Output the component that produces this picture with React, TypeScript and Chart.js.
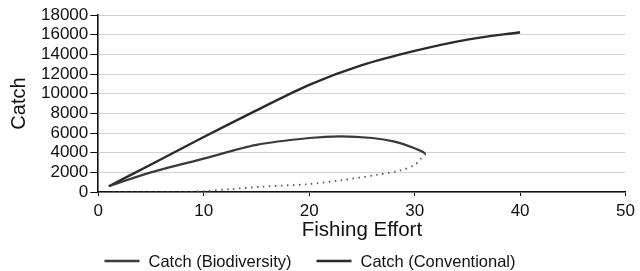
import React, { useEffect, useRef } from 'react';
import { Chart, registerables } from 'chart.js';

Chart.register(...registerables);

// Fishing effort / catch values
const conventionalEffort = [1, 5, 10, 15, 20, 25, 30, 35, 40];
const conventionalCatch = [600, 2800, 5600, 8300, 10900, 12900, 14350, 15500, 16250];

const bioUpperEffort = [1, 5, 10, 15, 20, 23, 26, 28, 30, 31];
const bioUpperCatch = [600, 2000, 3400, 4800, 5500, 5670, 5500, 5150, 4450, 3900];

const bioLowerEffort = [30.6, 30, 28.6, 26.4, 23, 19.8, 15.5, 12.5, 10, 8, 1];
const bioLowerCatch = [3400, 2750, 2200, 1750, 1200, 800, 550, 300, 100, 0, 0];

const xTicks = [0, 10, 20, 30, 40, 50];
const yTicks = [0, 2000, 4000, 6000, 8000, 10000, 12000, 14000, 16000, 18000];

const seriesLabels = ['Catch (Biodiversity)', 'Catch (Conventional)'];
const xTitle = 'Fishing Effort';
const yTitle = 'Catch';

const FONT = '"Liberation Sans", Arial, Helvetica, sans-serif';

const bottomLegend = {
  id: 'bottomLegend',
  afterDraw(chart: any) {
    const ctx = chart.ctx as CanvasRenderingContext2D;
    ctx.save();
    ctx.font = `16.5px ${FONT}`;
    const lineW = 35;
    const gapText = 9;
    const gapItem = 25;
    const items = chart.data.datasets.map((ds: any) => ({
      label: ds.label as string,
      color: ds.borderColor as string,
    }));
    const widths = items.map((it: any) => lineW + gapText + ctx.measureText(it.label).width);
    const total = widths.reduce((a: number, b: number) => a + b, 0) + gapItem * (items.length - 1);
    let x = chart.width / 2 - 10 - total / 2;
    const y = chart.height - 10;
    items.forEach((it: any, i: number) => {
      ctx.strokeStyle = it.color;
      ctx.lineWidth = 2.4;
      ctx.setLineDash([]);
      ctx.beginPath();
      ctx.moveTo(x, y);
      ctx.lineTo(x + lineW, y);
      ctx.stroke();
      ctx.fillStyle = '#111';
      ctx.textBaseline = 'middle';
      ctx.textAlign = 'left';
      ctx.fillText(it.label, x + lineW + gapText, y + 1);
      x += widths[i] + gapItem;
    });
    ctx.restore();
  },
};

export default function App() {
  const canvasRef = useRef<HTMLCanvasElement | null>(null);

  useEffect(() => {
    if (!canvasRef.current) return;
    const bioData = [
      ...bioUpperEffort.map((x, i) => ({ x, y: bioUpperCatch[i] })),
      ...bioLowerEffort.map((x, i) => ({ x, y: bioLowerCatch[i] })),
    ];
    const convData = conventionalEffort.map((x, i) => ({ x, y: conventionalCatch[i] }));
    const splitIndex = bioUpperEffort.length - 1;

    const chart = new Chart(canvasRef.current, {
      type: 'scatter',
      data: {
        datasets: [
          {
            label: seriesLabels[0],
            data: bioData,
            showLine: true,
            borderColor: '#3a3a3a',
            backgroundColor: '#3a3a3a',
            borderWidth: 2.2,
            pointRadius: 0,
            tension: 0.3,
            segment: {
              borderDash: (ctx: any) => (ctx.p0DataIndex >= splitIndex ? [1.5, 4.5] : undefined),
              borderColor: (ctx: any) => (ctx.p0DataIndex >= splitIndex ? '#555' : undefined),
              borderWidth: (ctx: any) => (ctx.p0DataIndex >= splitIndex ? 1.8 : undefined),
            },
          } as any,
          {
            label: seriesLabels[1],
            data: convData,
            showLine: true,
            borderColor: '#2a2a2a',
            backgroundColor: '#2a2a2a',
            borderWidth: 2.4,
            pointRadius: 0,
            tension: 0.3,
          },
        ],
      },
      options: {
        responsive: true,
        maintainAspectRatio: false,
        animation: false,
        layout: { padding: { left: 9, right: 10, top: 15, bottom: 30 } },
        plugins: {
          tooltip: { enabled: false },
          legend: { display: false },
        },
        scales: {
          x: {
            type: 'linear',
            min: 0,
            max: 50,
            afterBuildTicks: (axis: any) => {
              axis.ticks = xTicks.map((v) => ({ value: v }));
            },
            grid: {
              drawOnChartArea: false,
              drawTicks: true,
              tickLength: 4,
              tickColor: '#111',
            },
            border: { color: '#111', width: 1.6 },
            ticks: {
              color: '#111',
              padding: 5,
              maxRotation: 0,
              autoSkip: false,
              font: { family: FONT, size: 17 },
            },
            title: {
              display: true,
              text: xTitle,
              color: '#111',
              padding: { top: -6, bottom: 0 },
              font: { family: FONT, size: 20.5, lineHeight: 1.0 },
            },
          },
          y: {
            type: 'linear',
            min: 0,
            max: 18000,
            afterBuildTicks: (axis: any) => {
              axis.ticks = yTicks.map((v) => ({ value: v }));
            },
            grid: {
              color: '#d2d2d2',
              lineWidth: 1,
              tickColor: '#111',
              tickLength: 8,
            },
            border: { color: '#111', width: 1.6 },
            ticks: {
              color: '#111',
              padding: 2,
              autoSkip: false,
              callback: (v: any) => String(v),
              font: { family: FONT, size: 17 },
            },
            title: {
              display: true,
              text: yTitle,
              color: '#111',
              padding: { top: 0, bottom: 10 },
              font: { family: FONT, size: 20, lineHeight: 1.0 },
            },
          },
        },
      },
      plugins: [bottomLegend],
    });
    return () => chart.destroy();
  }, []);

  return (
    <div style={{ position: 'absolute', left: 0, top: 0, width: 640, height: 271, background: '#fff' }}>
      <canvas ref={canvasRef} />
    </div>
  );
}
